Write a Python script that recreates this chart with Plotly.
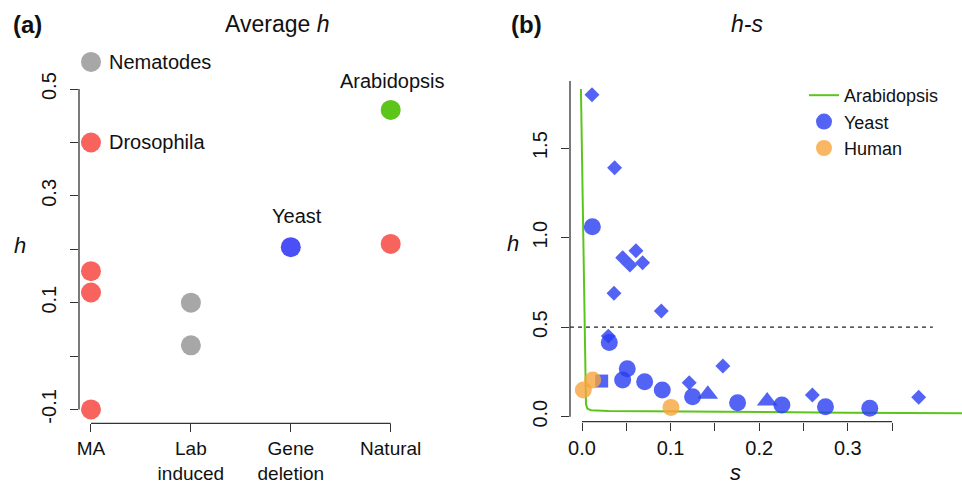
import plotly.graph_objects as go

# ---------------- Panel (a) data ----------------
categories = ["MA", "Lab<br>induced", "Gene<br>deletion", "Natural"]
a_cat_index = [1, 1, 1, 1, 1, 2, 2, 3, 4, 4]
a_h = [0.551, 0.400, 0.159, 0.119, -0.100, 0.100, 0.020, 0.204, 0.461, 0.210]
a_colors = ["#A7A7A7", "#F8645D", "#F8645D", "#F8645D", "#F8645D",
            "#A7A7A7", "#A7A7A7", "#4A4FF6", "#5CC51A", "#F8645D"]
a_yticks = [-0.1, 0.0, 0.1, 0.2, 0.3, 0.4, 0.5]
a_yticktext = ["-0.1", "", "0.1", "", "0.3", "", "0.5"]

# labelled points: (category index, h, text)
a_label_cat = [1, 1, 3, 4]
a_label_h = [0.551, 0.400, 0.204, 0.461]
a_label_text = ["Nematodes", "Drosophila", "Yeast", "Arabidopsis"]

# ---------------- Panel (b) data ----------------
yeast_diamond_s = [0.0113, 0.0368, 0.0459, 0.0541, 0.0609, 0.0684, 0.0361,
                   0.0895, 0.0297, 0.159, 0.121, 0.260, 0.380]
yeast_diamond_h = [1.798, 1.390, 0.888, 0.847, 0.927, 0.860, 0.689,
                   0.590, 0.450, 0.283, 0.190, 0.121, 0.108]
yeast_circle_s = [0.0117, 0.0308, 0.0511, 0.0459, 0.0707, 0.0906, 0.1248,
                  0.1756, 0.2256, 0.2748, 0.3248]
yeast_circle_h = [1.061, 0.415, 0.268, 0.205, 0.195, 0.149, 0.112,
                  0.078, 0.065, 0.056, 0.047]
yeast_square_s = [0.0222]
yeast_square_h = [0.199]
yeast_triangle_s = [0.142, 0.209]
yeast_triangle_h = [0.125, 0.088]
human_s = [0.0015, 0.012, 0.1004]
human_h = [0.149, 0.205, 0.052]
arab_s = [-0.0012, 0.0, 0.001, 0.002, 0.003, 0.0038, 0.0045, 0.006, 0.01,
          0.03, 0.1, 0.2, 0.3, 0.43]
arab_h = [1.83, 1.45, 1.10, 0.75, 0.40, 0.15, 0.07, 0.045, 0.036,
          0.032, 0.029, 0.026, 0.022, 0.019]
b_yticks = [0.0, 0.5, 1.0, 1.5]
b_yticktext = ["0.0", "0.5", "1.0", "1.5"]
b_xticks = [0.0, 0.05, 0.10, 0.15, 0.20, 0.25, 0.30, 0.35]
b_xticktext = ["0.0", "", "0.1", "", "0.2", "", "0.3", ""]
threshold_h = 0.5

FONT = "Liberation Sans, Arial, Helvetica, sans-serif"
AX = "#333333"
W, H = 962, 484
BLUE = "rgba(40,60,240,0.8)"
ORANGE = "rgba(247,165,60,0.8)"
TXT = "#111111"

fig = go.Figure()

# Panel (a) points
fig.add_trace(go.Scatter(
    x=a_cat_index, y=a_h, mode="markers", xaxis="x", yaxis="y",
    marker=dict(size=20, color=a_colors, line=dict(width=0)),
    showlegend=False, cliponaxis=False))

# Panel (a) labels
shifts = [(16, 0, "left"), (16, 0, "left"), (6, 31, "center"), (2, 29, "center")]
for c, hv, t, (dx, dy, anc) in zip(a_label_cat, a_label_h, a_label_text, shifts):
    fig.add_annotation(x=c, y=hv, xref="x", yref="y", text=t, showarrow=False,
                       xanchor=anc, yanchor="middle", xshift=dx, yshift=dy,
                       font=dict(size=20, color=TXT, family=FONT))

# Panel (b) traces
fig.add_trace(go.Scatter(
    x=arab_s, y=arab_h, mode="lines", xaxis="x2", yaxis="y2",
    line=dict(color="#5CC51A", width=2), name="Arabidopsis", showlegend=True))
fig.add_trace(go.Scatter(
    x=yeast_diamond_s, y=yeast_diamond_h, mode="markers", xaxis="x2", yaxis="y2",
    marker=dict(symbol="diamond", size=11.5, color=BLUE, line=dict(width=0)),
    showlegend=False, cliponaxis=False))
fig.add_trace(go.Scatter(
    x=yeast_circle_s, y=yeast_circle_h, mode="markers", xaxis="x2", yaxis="y2",
    marker=dict(symbol="circle", size=17, color=BLUE, line=dict(width=0)),
    name="Yeast", showlegend=True, cliponaxis=False))
fig.add_trace(go.Scatter(
    x=yeast_square_s, y=yeast_square_h, mode="markers", xaxis="x2", yaxis="y2",
    marker=dict(symbol="square", size=13, color=BLUE, line=dict(width=0)),
    showlegend=False, cliponaxis=False))
fig.add_trace(go.Scatter(
    x=yeast_triangle_s, y=yeast_triangle_h, mode="markers", xaxis="x2", yaxis="y2",
    marker=dict(symbol="triangle-up", size=18, color=BLUE, line=dict(width=0)),
    showlegend=False, cliponaxis=False))
fig.add_trace(go.Scatter(
    x=human_s, y=human_h, mode="markers", xaxis="x2", yaxis="y2",
    marker=dict(symbol="circle", size=17, color=ORANGE, line=dict(width=0)),
    name="Human", showlegend=True, cliponaxis=False))

# geometry (pixels)
ax0, ax1, ay_top, ay_bot = 79, 402.7, 48, 423.3
bx0, bx1, by_top, by_bot = 570, 962, 81, 421.7

axis_common = dict(showgrid=False, zeroline=False, showline=False, ticks="outside",
                   ticklen=8, tickwidth=1.3, tickcolor=AX, automargin=False)
yfont = dict(size=20, color=TXT, family=FONT)
xfont = dict(size=19, color=TXT, family=FONT)

fig.update_layout(
    width=W, height=H, autosize=False, margin=dict(l=0, r=0, t=0, b=0, pad=0),
    paper_bgcolor="white", plot_bgcolor="white",
    font=dict(family=FONT, color=TXT),
    xaxis=dict(domain=[ax0 / W, ax1 / W], range=[0.88, 4.12], anchor="y",
               tickmode="array", tickvals=[1, 2, 3, 4], ticktext=categories,
               ticklabelstandoff=0, tickfont=xfont, **axis_common),
    yaxis=dict(domain=[1 - ay_bot / H, 1 - ay_top / H], range=[-0.126, 0.577],
               anchor="x", tickmode="array", tickvals=a_yticks, ticktext=a_yticktext,
               tickangle=-90, ticklabelstandoff=6, tickfont=yfont, **axis_common),
    xaxis2=dict(domain=[bx0 / W, bx1 / W], range=[-0.01354, 0.4289], anchor="y2",
                tickmode="array", tickvals=b_xticks, ticktext=b_xticktext,
                ticklabelstandoff=0, tickfont=dict(size=20, color=TXT, family=FONT),
                **axis_common),
    yaxis2=dict(domain=[1 - by_bot / H, 1 - by_top / H], range=[-0.028, 1.875],
                anchor="x2", tickmode="array", tickvals=b_yticks, ticktext=b_yticktext,
                tickangle=-90, ticklabelstandoff=6, tickfont=yfont, **axis_common),
    legend=dict(x=804 / W, y=1 - 77 / H, xanchor="left", yanchor="top",
                bgcolor="rgba(0,0,0,0)", tracegroupgap=0,
                font=dict(size=18, color=TXT, family=FONT),
                itemwidth=30),
)

# axis lines spanning first to last tick (R style)
line_style = dict(color=AX, width=1.3)
fig.add_shape(type="line", xref="x domain", yref="y", x0=0, x1=0,
              y0=a_yticks[0], y1=a_yticks[-1], line=line_style)
fig.add_shape(type="line", xref="x", yref="y domain", x0=1, x1=4,
              y0=0, y1=0, line=line_style)
fig.add_shape(type="line", xref="x2 domain", yref="y2", x0=0, x1=0,
              y0=b_yticks[0], y1=1.875, line=line_style)
fig.add_shape(type="line", xref="x2", yref="y2 domain", x0=b_xticks[0], x1=b_xticks[-1],
              y0=0, y1=0, line=line_style)
# dashed h = 0.5 line
fig.add_shape(type="line", xref="x2", yref="y2", x0=-0.01354, x1=0.396,
              y0=threshold_h, y1=threshold_h,
              line=dict(color="#222222", width=1.3, dash="4px,4px"))

# titles and axis labels
def ann(x, y, text, size):
    fig.add_annotation(x=x / W, y=1 - y / H, xref="paper", yref="paper", text=text,
                       showarrow=False, xanchor="center", yanchor="middle",
                       font=dict(size=size, color=TXT, family=FONT))

ann(27, 24, "<b>(a)</b>", 24)
ann(277, 24, "Average <i>h</i>", 23)
ann(526, 24, "<b>(b)</b>", 24)
ann(747, 24, "<i>h-s</i>", 23)
ann(20, 245, "<i>h</i>", 22)
ann(513, 243, "<i>h</i>", 22)
ann(735, 472, "<i>s</i>", 22)

fig.write_html("out.html", config={"responsive": False})
